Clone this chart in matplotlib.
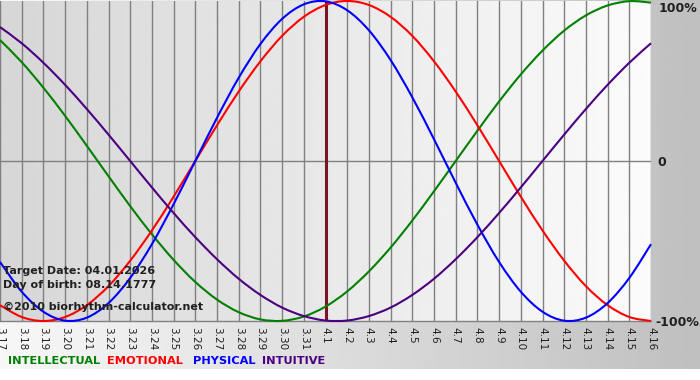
import numpy as np
import matplotlib
matplotlib.use("Agg")
import matplotlib.pyplot as plt
from matplotlib.path import Path
from matplotlib.patches import PathPatch

# ---- data (one value per day, 3.17 .. 4.16) ----
dates = ["3.17", "3.18", "3.19", "3.20", "3.21", "3.22", "3.23", "3.24", "3.25", "3.26",
         "3.27", "3.28", "3.29", "3.30", "3.31", "4.1", "4.2", "4.3", "4.4", "4.5",
         "4.6", "4.7", "4.8", "4.9", "4.10", "4.11", "4.12", "4.13", "4.14", "4.15", "4.16"]

intellectual = [0.756, 0.618, 0.458, 0.282, 0.095, -0.095, -0.282, -0.458, -0.618, -0.756,
                -0.866, -0.945, -0.990, -0.999, -0.972, -0.910, -0.815, -0.690, -0.541, -0.372,
                -0.189, 0.0, 0.189, 0.372, 0.541, 0.690, 0.815, 0.910, 0.972, 0.999, 0.990]
emotional = [-0.901, -0.975, -1.0, -0.975, -0.901, -0.782, -0.623, -0.434, -0.223, 0.0,
             0.223, 0.434, 0.623, 0.782, 0.901, 0.975, 1.0, 0.975, 0.901, 0.782,
             0.623, 0.434, 0.223, 0.0, -0.223, -0.434, -0.623, -0.782, -0.901, -0.975, -1.0]
physical = [-0.631, -0.817, -0.942, -0.998, -0.979, -0.888, -0.731, -0.520, -0.270, 0.0,
            0.270, 0.520, 0.731, 0.888, 0.979, 0.998, 0.942, 0.817, 0.631, 0.398,
            0.136, -0.136, -0.398, -0.631, -0.817, -0.942, -0.998, -0.979, -0.888, -0.731, -0.520]
intuitive = [0.837, 0.736, 0.614, 0.476, 0.325, 0.165, 0.0, -0.165, -0.325, -0.476,
             -0.614, -0.736, -0.837, -0.916, -0.969, -0.997, -0.997, -0.969, -0.916, -0.837,
             -0.736, -0.614, -0.476, -0.325, -0.165, 0.0, 0.165, 0.325, 0.476, 0.614, 0.736]

target_label = "4.1"
info_lines = ["Target Date: 04.01.2026", "Day of birth: 08.14.1777"]
credit = "\u00a92010 biorhythm-calculator.net"

series = [("INTELLECTUAL", intellectual, "#008000"),
          ("EMOTIONAL", emotional, "#ff0000"),
          ("PHYSICAL", physical, "#0000ff"),
          ("INTUITIVE", intuitive, "#4b0082")]
legend_x = [8, 107, 193, 262]   # pixel start of each legend word


def smooth_path(xv, yv):
    """Catmull-Rom style bezier path through the data points (drawing style only)."""
    pts = np.column_stack([np.asarray(xv, float), np.asarray(yv, float)])
    n = len(pts)
    verts = [pts[0]]
    codes = [Path.MOVETO]
    for i in range(n - 1):
        p0 = pts[i - 1] if i > 0 else pts[i]
        p1 = pts[i]
        p2 = pts[i + 1]
        p3 = pts[i + 2] if i + 2 < n else pts[i + 1]
        verts += [p1 + (p2 - p0) / 6.0, p2 - (p3 - p1) / 6.0, p2]
        codes += [Path.CURVE4] * 3
    return Path(verts, codes)


W, H = 700, 380
fig = plt.figure(figsize=(7.0, 3.8), dpi=100)

# page background: light -> gray gradient, white strip at the bottom
bg = fig.add_axes([0, 0, 1, 1], zorder=0)
img = np.tile(np.linspace(0.97, 0.75, 256), (2, 1))
bg.imshow(img, cmap="gray", vmin=0, vmax=1, aspect="auto",
          extent=[0, W, H - 369, H], interpolation="bilinear")
bg.set_xlim(0, W); bg.set_ylim(0, H)
bg.axis("off")

# plot area
x0, x1, ytop, ybot = 0, 651, 1, 321
ax = fig.add_axes([x0 / W, 1 - ybot / H, (x1 - x0) / W, (ybot - ytop) / H], zorder=1)
n = len(dates)
xs = np.arange(n)
ax.set_xlim(0, n - 1)
ax.set_ylim(-1, 1)
pgrad = np.tile(np.linspace(0.84, 0.985, 256), (2, 1))
ax.imshow(pgrad, cmap="gray", vmin=0, vmax=1, aspect="auto",
          extent=[0, n - 1, -1, 1], interpolation="bilinear", zorder=0)

for i in xs:
    ax.axvline(i, color="#808080", lw=1.0, zorder=1)
ax.axhline(0, color="#808080", lw=1.0, zorder=1)
ax.axhline(-1, color="#808080", lw=1.0, zorder=1, clip_on=False)

ti = dates.index(target_label)
ax.axvline(ti, color="#7a1424", lw=2.2, zorder=2)

for name, vals, col in series:
    patch = PathPatch(smooth_path(xs, vals), facecolor="none", edgecolor=col,
                      lw=1.5, zorder=3, clip_on=False, joinstyle="round")
    ax.add_patch(patch)

for s in ax.spines.values():
    s.set_visible(False)
ax.set_xticks(xs)
ax.set_xticklabels(dates, rotation=-90, fontsize=7.5, color="#202020", va="top", ha="center")
ax.tick_params(axis="x", length=0, pad=4)
ax.set_yticks([])

# right side percentage labels
fig.text(659 / W, 1 - 8 / H, "100%", fontsize=9, fontweight="bold",
         color="#202020", va="center", ha="left")
fig.text(657 / W, 1 - 162 / H, "0", fontsize=9, fontweight="bold",
         color="#202020", va="center", ha="left")
fig.text(655 / W, 1 - 322 / H, "-100%", fontsize=9, fontweight="bold",
         color="#202020", va="center", ha="left")

# overlay info text
for k, line in enumerate(info_lines):
    fig.text(3 / W, 1 - (271 + 14 * k) / H, line, fontsize=8, fontweight="bold",
             color="#202020", va="center", ha="left", zorder=5)
fig.text(3 / W, 1 - 307 / H, credit, fontsize=8, fontweight="bold",
         color="#202020", va="center", ha="left", zorder=5)

# legend words
for (name, vals, col), lx in zip(series, legend_x):
    fig.text(lx / W, 1 - 361 / H, name, fontsize=8.2, fontweight="bold",
             color=col, va="center", ha="left", zorder=5)

fig.savefig("out.png", dpi=100)
